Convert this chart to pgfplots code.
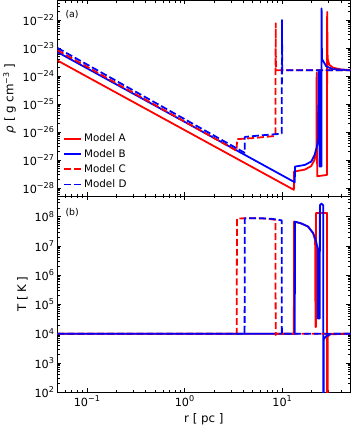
\documentclass[border=0pt]{standalone}
\usepackage{fontspec}
\setmainfont{DejaVu Sans}
\usepackage{pgfplots}
\pgfplotsset{compat=1.18}

\tikzset{
  ma/.style={red, line width=1.8bp, line join=round},
  mb/.style={blue, line width=1.8bp, line join=round},
  mc/.style={red, line width=1.8bp, line join=round, dash pattern=on 7bp off 3bp},
  md/.style={blue, line width=1.8bp, line join=round, dash pattern=on 7bp off 3bp},
}
% tick labels as 10^n in the text font
\newcommand{\tl}[1]{10\raisebox{0.42em}{\fontsize{8.2}{9}\selectfont #1}}

\begin{document}
\begin{tikzpicture}
\begin{axis}[name=top,
    xmode=log, ymode=log,
    width=296bp, height=198bp, scale only axis,
    xmin=0.05, xmax=50, ymin=5e-29, ymax=5e-22,
    tick align=inside,
    major tick length=4bp, minor tick length=2.2bp,
    tick style={black, line width=0.6bp},
    axis line style={line width=0.8bp},
    tick label style={font=\fontsize{11.4}{13}\selectfont},
    label style={font=\fontsize{12}{14}\selectfont},
    xtick={0.1,1,10}, xticklabels={},
    minor xtick={0.06,0.07,0.08,0.09,0.2,0.3,0.4,0.5,0.6,0.7,0.8,0.9,
                 2,3,4,5,6,7,8,9,20,30,40},
    ytick={1e-28,1e-27,1e-26,1e-25,1e-24,1e-23,1e-22},
    yticklabels={\tl{−28},\tl{−27},\tl{−26},\tl{−25},\tl{−24},\tl{−23},\tl{−22}},
    minor ytick={6e-29,7e-29,8e-29,9e-29,
      2e-28,3e-28,4e-28,5e-28,6e-28,7e-28,8e-28,9e-28,
      2e-27,3e-27,4e-27,5e-27,6e-27,7e-27,8e-27,9e-27,
      2e-26,3e-26,4e-26,5e-26,6e-26,7e-26,8e-26,9e-26,
      2e-25,3e-25,4e-25,5e-25,6e-25,7e-25,8e-25,9e-25,
      2e-24,3e-24,4e-24,5e-24,6e-24,7e-24,8e-24,9e-24,
      2e-23,3e-23,4e-23,5e-23,6e-23,7e-23,8e-23,9e-23,
      2e-22,3e-22,4e-22},
    ylabel={{\itshape ρ} [ g cm\textsuperscript{−3} ]},
    legend cell align=left,
    legend style={draw=none, fill=none, at={(0.01,0.015)}, anchor=south west,
                  font=\fontsize{10.5}{12}\selectfont, row sep=2bp},
]
% Model A
\addplot[ma] coordinates {
  (0.05,3.55e-24) (13.2,8.5e-29) (13.25,3.8e-28) (17.1,4.5e-28) (19.9,6e-28)
  (21.5,1.0e-27) (22.3,1.8e-27) (22.55,2.5e-27) (22.6,1.3e-24) (22.9,2.6e-28)
  (28.9,2.9e-28) (28.95,1.95e-22) (29.3,4e-24) (30.5,2.5e-24) (33,2.0e-24)
  (40,1.7e-24) (50,1.62e-24)
};
% Model B
\addplot[mb] coordinates {
  (0.05,7.1e-24) (13.5,1.58e-28) (13.55,5.75e-28) (17.1,6.6e-28) (19.9,8.7e-28)
  (21.5,1.48e-27) (22.9,3.3e-27) (23.5,6e-27) (23.6,1.6e-24) (24.2,1.6e-24)
  (24.25,5.75e-28) (25.3,5.75e-28) (25.4,2.6e-22) (25.6,4e-24) (26.4,3.4e-24)
  (28.3,2.2e-24) (33,1.75e-24) (50,1.6e-24)
};
% Model C
\addplot[mc] coordinates {
  (0.05,8.3e-24) (3.43,2.1e-27) (3.45,5.5e-27) (5,6.0e-27) (8.0,7.0e-27)
  (8.55,7.3e-27) (8.6,7.6e-23) (8.65,1.6e-24) (50,1.6e-24)
};
% Model D
\addplot[md] coordinates {
  (0.05,1.0e-23) (4.13,1.8e-27) (4.15,6.6e-27) (6,7.5e-27) (9.5,8.5e-27)
  (9.93,8.8e-27) (9.97,1.0e-22) (10.05,1.6e-24) (50,1.6e-24)
};
\legend{Model A, Model B, Model C, Model D}
\node[anchor=north west, inner sep=0pt, font=\fontsize{9.5}{11}\selectfont]
  at (rel axis cs:0.027,0.95) {(a)};
\end{axis}

\begin{axis}[at={(top.south west)}, anchor=north west,
    xmode=log, ymode=log,
    width=296bp, height=198bp, scale only axis,
    xmin=0.05, xmax=50, ymin=100, ymax=5e8,
    tick align=inside,
    major tick length=4bp, minor tick length=2.2bp,
    tick style={black, line width=0.6bp},
    axis line style={line width=0.8bp},
    tick label style={font=\fontsize{11.4}{13}\selectfont},
    label style={font=\fontsize{12}{14}\selectfont},
    xtick={0.1,1,10}, xticklabels={\tl{−1},\tl{0},\tl{1}},
    minor xtick={0.06,0.07,0.08,0.09,0.2,0.3,0.4,0.5,0.6,0.7,0.8,0.9,
                 2,3,4,5,6,7,8,9,20,30,40},
    ytick={1e2,1e3,1e4,1e5,1e6,1e7,1e8},
    yticklabels={\tl{2},\tl{3},\tl{4},\tl{5},\tl{6},\tl{7},\tl{8}},
    minor ytick={2e2,3e2,4e2,5e2,6e2,7e2,8e2,9e2,
      2e3,3e3,4e3,5e3,6e3,7e3,8e3,9e3,
      2e4,3e4,4e4,5e4,6e4,7e4,8e4,9e4,
      2e5,3e5,4e5,5e5,6e5,7e5,8e5,9e5,
      2e6,3e6,4e6,5e6,6e6,7e6,8e6,9e6,
      2e7,3e7,4e7,5e7,6e7,7e7,8e7,9e7,
      2e8,3e8,4e8},
    xlabel={r [ pc ]},
    ylabel={T [ K ]},
]
% Model A
\addplot[ma] coordinates {
  (0.05,1e4) (13.2,1e4) (13.25,6.8e7) (15.7,5.9e7) (18.45,4.6e7) (20.8,2.75e7)
  (21.8,1.6e7) (22.0,1.7e4) (22.25,1.7e4) (22.3,1.35e8) (28.9,1.35e8)
  (28.95,1) (29.3,1) (29.35,8e3) (31,9.5e3) (50,1e4)
};
% Model B
\addplot[mb] coordinates {
  (0.05,1e4) (13.5,1e4) (13.55,6.8e7) (15.7,5.9e7) (18.45,4.6e7) (20.8,2.75e7)
  (22.3,1.45e7) (23.2,8e6) (23.25,3.3e4) (24.35,3.3e4) (24.4,2.45e8)
  (25.4,2.8e8) (26.4,2.45e8) (26.45,1) (26.65,1) (26.7,6.3e3) (28,8e3)
  (31.6,9.8e3) (50,1e4)
};
% Model C
\addplot[mc] coordinates {
  (0.05,1e4) (3.43,1e4) (3.45,8.7e7) (5,8.9e7) (7,8.6e7) (8.55,7.8e7)
  (8.6,9e3) (8.75,1e4) (50,1e4)
};
% Model D
\addplot[md] coordinates {
  (0.05,1e4) (4.13,1e4) (4.15,8.8e7) (6,8.9e7) (8,8.4e7) (9.9,7.5e7)
  (9.95,1e4) (50,1e4)
};
\node[anchor=north west, inner sep=0pt, font=\fontsize{9.5}{11}\selectfont]
  at (rel axis cs:0.027,0.94) {(b)};
\end{axis}
\end{tikzpicture}
\end{document}
